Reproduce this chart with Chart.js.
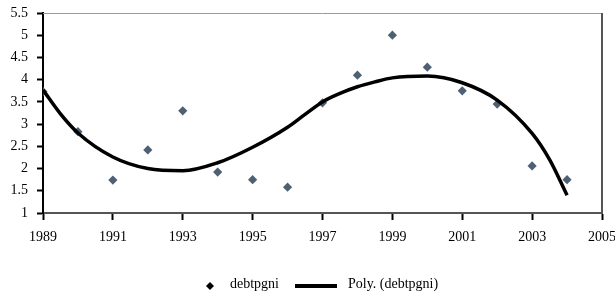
<!DOCTYPE html>
<html>
<head>
<meta charset="utf-8">
<script src="https://cdn.jsdelivr.net/npm/chart.js@4"></script>
<style>
  html, body { margin: 0; padding: 0; background: #fff; }
  canvas { display: block; }
</style>
</head>
<body>
<canvas id="chart" width="615" height="292"></canvas>
<script>
// valeurs
const years = [1989, 1990, 1991, 1992, 1993, 1994, 1995, 1996, 1997, 1998, 1999, 2000, 2001, 2002, 2003, 2004];
const debtpgni = [3.73, 2.83, 1.74, 2.42, 3.30, 1.92, 1.75, 1.58, 3.48, 4.10, 5.0, 4.28, 3.75, 3.45, 2.06, 1.75];
// courbe de tendance polynomiale
const polyYears = [1989, 1989.5, 1990, 1991, 1992, 1993, 1994, 1995, 1996, 1996.5, 1997, 1997.5, 1998, 1998.5, 1999, 2000, 2001, 2002, 2003, 2003.5, 2004];
const polyValues = [3.77, 3.23, 2.80, 2.26, 2.00, 1.95, 2.13, 2.48, 2.93, 3.22, 3.50, 3.69, 3.84, 3.95, 4.04, 4.08, 3.93, 3.54, 2.79, 2.20, 1.40];
const legendLabels = ['debtpgni', 'Poly. (debtpgni)'];

const font = { family: "'Liberation Serif', 'Times New Roman', serif", size: 14 };
const pointColor = '#4e6173';

const frame = {
  id: 'frame',
  beforeDatasetsDraw(chart) {
    const { ctx, chartArea: a } = chart;
    ctx.save();
    ctx.strokeStyle = '#9a9a9a';
    ctx.lineWidth = 1;
    ctx.beginPath();
    ctx.moveTo(a.left, a.top + 0.5);
    ctx.lineTo(a.right, a.top + 0.5);
    ctx.stroke();
    ctx.strokeStyle = '#555';
    ctx.lineWidth = 2;
    ctx.beginPath();
    ctx.moveTo(a.right, a.top);
    ctx.lineTo(a.right, a.bottom);
    ctx.stroke();
    ctx.restore();
  }
};

// légende dessinée à la main
const legendBox = {
  id: 'legendBox',
  afterDraw(chart) {
    const ctx = chart.ctx;
    const y = 286;
    ctx.save();
    ctx.fillStyle = '#000';
    ctx.beginPath();
    ctx.moveTo(210, y - 4);
    ctx.lineTo(214, y);
    ctx.lineTo(210, y + 4);
    ctx.lineTo(206, y);
    ctx.closePath();
    ctx.fill();
    ctx.font = '14px ' + font.family;
    ctx.textBaseline = 'middle';
    ctx.fillText(legendLabels[0], 230, y - 2);
    ctx.fillRect(295, y - 2, 42, 4);
    ctx.fillText(legendLabels[1], 348, y - 2);
    ctx.restore();
  }
};

new Chart(document.getElementById('chart').getContext('2d'), {
  type: 'scatter',
  data: {
    datasets: [
      {
        label: legendLabels[0],
        data: years.map((x, i) => ({ x: x, y: debtpgni[i] })),
        backgroundColor: pointColor,
        borderColor: pointColor,
        pointStyle: 'rectRot',
        pointRadius: 4.6,
        borderWidth: 0,
        order: 2
      },
      {
        label: legendLabels[1],
        type: 'line',
        data: polyYears.map((x, i) => ({ x: x, y: polyValues[i] })),
        borderColor: '#000',
        borderWidth: 3.5,
        pointRadius: 0,
        cubicInterpolationMode: 'monotone',
        fill: false,
        order: 1
      }
    ]
  },
  options: {
    responsive: false,
    animation: false,
    layout: { padding: { top: 13, right: 13, left: 0, bottom: 0 } },
    scales: {
      x: {
        type: 'linear',
        min: 1989,
        max: 2005,
        afterFit: (s) => { s.height = 79; s.paddingLeft = 0; s.paddingRight = 0; },
        ticks: { stepSize: 2, color: '#000', font: font, padding: 9, maxRotation: 0, callback: (v) => String(v) },
        grid: { drawOnChartArea: false, tickLength: 7, tickWidth: 2, tickColor: '#000' },
        border: { color: '#555', width: 2 }
      },
      y: {
        min: 1,
        max: 5.5,
        afterFit: (s) => { s.width = 43; s.paddingTop = 0; s.paddingBottom = 0; },
        ticks: { stepSize: 0.5, color: '#000', font: font, padding: 9, callback: (v) => String(v) },
        grid: { drawOnChartArea: false, tickLength: 6, tickWidth: 2, tickColor: '#000' },
        border: { color: '#000', width: 2 }
      }
    },
    plugins: {
      legend: { display: false },
      tooltip: { enabled: false }
    }
  },
  plugins: [frame, legendBox]
});
</script>
</body>
</html>
